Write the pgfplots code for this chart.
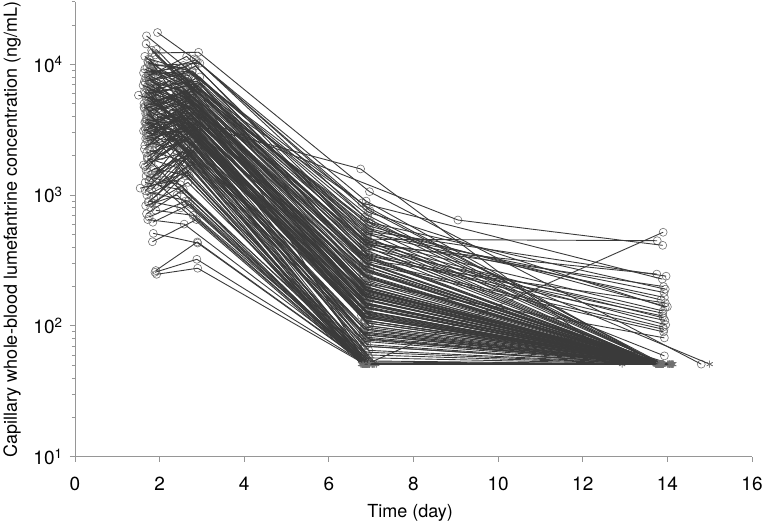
\documentclass[border=0pt]{standalone}
\usepackage{fontspec}
\setmainfont{TeX Gyre Heros}
\usepackage{pgfplots}
\pgfplotsset{compat=1.18}
\definecolor{ln}{RGB}{58,58,58}
\definecolor{mk}{RGB}{112,112,112}
\definecolor{ax}{RGB}{150,150,150}
\pgfplotsset{
  mkpass/.style={only marks, scatter, scatter src=explicit symbolic,
    scatter/classes={o={mark=o, mark size=4pt, draw=mk, line width=0.6pt},
                     b={mark=asterisk, mark size=3.5pt, draw=mk, line width=0.6pt}}},
  lnpass/.style={ln, line width=0.9pt, scatter, scatter src=explicit symbolic,
    scatter/classes={o={mark=o, mark size=1pt, draw=ln, opacity=0},
                     b={mark=asterisk, mark size=3.5pt, draw=mk, line width=0.6pt}}}}
\newcommand{\Mk}[1]{\addplot[mkpass] coordinates {#1};}
\newcommand{\Ln}[1]{\addplot[lnpass] coordinates {#1};}
% one subject per group: (time in days, concentration in ng/mL)[o = measured, b = below LLOQ]
\newcommand{\Data}[1]{%
#1{(1.69,16500)[o] (2.56,9800)[o] (6.92,700)[o] (13.85,51)[b]}
#1{(1.71,1950)[o] (2.68,3300)[o] (6.87,150)[o] (13.77,51)[b]}
#1{(1.68,14300)[o] (2.40,8500)[o] (6.85,520)[o] (13.92,180)[o]}
#1{(1.95,5200)[o] (2.91,6800)[o] (6.86,380)[o] (13.83,51)[b]}
#1{(1.89,257)[o] (2.88,323)[o] (6.87,51)[b] (13.84,51)[b]}
#1{(1.65,9200)[o] (2.50,6800)[o] (6.82,420)[o] (13.75,249)[o]}
#1{(1.78,9000)[o] (2.70,8200)[o] (6.89,51)[b] (13.90,520)[o]}
#1{(1.66,1250)[o] (2.49,1100)[o] (6.86,51)[b] (13.74,51)[b]}
#1{(1.70,2800)[o] (2.90,3400)[o] (6.75,1585)[o] (12.93,51)[b]}
#1{(2.03,4400)[o] (2.78,5900)[o] (6.92,330)[o] (13.79,51)[b]}
#1{(1.62,8600)[o] (2.35,9300)[o] (6.90,560)[o] (13.85,158)[o]}
#1{(1.72,3300)[o] (2.57,4500)[o] (6.88,260)[o] (13.90,51)[b]}
#1{(1.90,11800)[o] (6.88,300)[o] (13.83,51)[b]}
#1{(1.88,1420)[o] (2.64,2300)[o] (6.83,95)[o] (13.81,51)[b]}
#1{(1.81,7500)[o] (2.77,8800)[o] (6.92,450)[o] (13.90,130)[o]}
#1{(2.06,7000)[o] (2.89,7400)[o] (6.97,280)[o] (13.87,51)[b]}
#1{(1.91,765)[o] (2.79,700)[o] (6.84,51)[b] (13.80,51)[b]}
#1{(1.50,5800)[o] (2.45,4700)[o] (6.80,170)[o] (13.83,51)[b]}
#1{(1.79,5600)[o] (2.95,8000)[o] (6.93,410)[o] (13.96,102)[o]}
#1{(1.77,8900)[o] (2.59,8000)[o] (6.97,550)[o] (13.88,51)[b]}
#1{(1.95,17500)[o] (2.82,11000)[o] (6.88,900)[o] (13.80,51)[b]}
#1{(1.87,5200)[o] (2.62,5900)[o] (6.98,220)[o] (13.85,51)[b]}
#1{(1.72,5000)[o] (2.43,4400)[o] (6.81,160)[o] (13.72,51)[b]}
#1{(2.10,3900)[o] (2.85,5000)[o] (6.80,290)[o] (13.86,51)[b]}
#1{(1.63,4700)[o] (2.36,3300)[o] (6.94,135)[o] (13.78,51)[b]}
#1{(1.85,510)[o] (2.90,430)[o] (6.89,51)[b] (13.81,51)[b]}
#1{(1.84,4500)[o] (2.70,5200)[o] (6.84,200)[o] (13.86,51)[b]}
#1{(1.77,4400)[o] (2.57,6300)[o] (6.91,270)[o] (14.10,51)[b]}
#1{(1.67,4200)[o] (2.50,2900)[o] (6.77,120)[o] (13.75,51)[b]}
#1{(1.90,6100)[o] (2.93,7200)[o] (6.95,420)[o] (13.81,51)[b]}
#1{(1.82,12200)[o] (2.92,12360)[o] (6.96,1062)[o] (14.80,51)[o]}
#1{(2.14,4000)[o] (2.69,3700)[o] (6.88,130)[o] (13.80,51)[b]}
#1{(1.80,3900)[o] (2.44,6600)[o] (6.82,350)[o] (13.94,110)[o]}
#1{(1.73,1150)[o] (2.65,1500)[o] (6.83,51)[b] (13.78,51)[b]}
#1{(1.85,3500)[o] (2.90,3900)[o] (9.05,645)[o] (13.89,413)[o]}
#1{(1.70,3800)[o] (2.52,3400)[o] (6.90,175)[o] (13.84,51)[b]}
#1{(1.79,2900)[o] (2.60,4100)[o] (6.84,210)[o] (13.77,51)[b]}
#1{(1.88,3700)[o] (2.75,5700)[o] (6.93,230)[o] (13.79,51)[b]}
#1{(1.65,3600)[o] (2.39,2600)[o] (6.80,90)[o] (14.00,51)[b]}
#1{(1.64,4600)[o] (2.62,5600)[o] (6.78,350)[o] (13.80,51)[b]}
#1{(1.75,11000)[o] (2.65,9000)[o] (6.90,480)[o] (13.78,51)[b]}
#1{(2.08,3400)[o] (2.86,4200)[o] (6.87,190)[o] (13.82,51)[b]}
#1{(1.92,3300)[o] (2.71,3000)[o] (6.99,120)[o] (13.90,51)[b]}
#1{(1.91,265)[o] (2.89,438)[o] (6.91,51)[b] (13.80,51)[b]}
#1{(1.73,3200)[o] (2.48,4600)[o] (6.85,175)[o] (13.86,51)[b]}
#1{(1.82,3100)[o] (2.74,2500)[o] (6.78,80)[o] (13.76,51)[b]}
#1{(1.68,3000)[o] (2.53,3800)[o] (6.92,165)[o] (14.08,51)[b]}
#1{(1.86,2900)[o] (2.87,5000)[o] (6.89,210)[o] (13.93,81)[o]}
#1{(1.81,7300)[o] (2.66,6100)[o] (6.83,460)[o] (13.82,51)[b]}
#1{(1.76,7600)[o] (2.93,4100)[o] (6.86,145)[o] (13.78,51)[b]}
#1{(1.61,6900)[o] (2.37,5300)[o] (6.80,250)[o] (13.85,51)[b]}
#1{(1.69,720)[o] (2.56,1100)[o] (7.05,51)[b] (13.85,51)[b]}
#1{(1.89,6300)[o] (2.80,4500)[o] (6.95,155)[o] (13.88,51)[b]}
#1{(1.74,5900)[o] (2.55,7700)[o] (6.83,440)[o] (13.91,200)[o]}
#1{(2.00,2300)[o] (2.92,3300)[o] (6.89,170)[o] (13.84,51)[b]}
#1{(1.80,5300)[o] (2.66,3200)[o] (6.90,140)[o] (13.80,51)[b]}
#1{(1.66,4800)[o] (2.42,6100)[o] (6.87,320)[o] (13.95,150)[o]}
#1{(1.84,4600)[o] (2.79,2800)[o] (6.93,105)[o] (13.77,51)[b]}
#1{(1.71,4300)[o] (2.62,5500)[o] (6.79,190)[o] (14.12,51)[b]}
#1{(1.88,1950)[o] (2.88,2900)[o] (6.86,150)[o] (13.78,51)[b]}
#1{(1.72,10500)[o] (2.48,7600)[o] (6.94,620)[o] (13.95,191)[o]}
#1{(1.94,4000)[o] (2.76,3500)[o] (6.97,135)[o] (13.87,51)[b]}
#1{(1.75,3700)[o] (2.54,4000)[o] (6.84,160)[o] (13.74,51)[b]}
#1{(2.12,3500)[o] (2.81,2300)[o] (6.91,51)[b] (13.82,51)[b]}
#1{(1.66,1650)[o] (2.44,2500)[o] (6.93,125)[o] (13.87,51)[b]}
#1{(1.69,3300)[o] (2.70,2700)[o] (6.88,85)[o] (13.79,51)[b]}
#1{(1.87,3100)[o] (2.63,3600)[o] (6.82,125)[o] (13.86,51)[b]}
#1{(1.72,2950)[o] (2.87,3100)[o] (6.96,100)[o] (13.90,51)[b]}
#1{(1.79,8100)[o] (2.71,5800)[o] (6.86,390)[o] (13.89,125)[o]}
#1{(1.93,5800)[o] (2.85,5000)[o] (6.90,300)[o] (13.83,51)[b]}
#1{(1.64,7400)[o] (2.44,8600)[o] (6.94,530)[o] (13.97,240)[o]}
#1{(1.76,1050)[o] (2.68,900)[o] (6.90,51)[b] (13.84,51)[b]}
#1{(1.91,6700)[o] (2.58,6000)[o] (6.81,290)[o] (13.84,51)[b]}
#1{(1.77,6100)[o] (2.95,4400)[o] (6.89,185)[o] (13.80,51)[b]}
#1{(2.04,4100)[o] (2.80,3800)[o] (6.81,240)[o] (13.80,51)[b]}
#1{(1.68,5700)[o] (2.39,3800)[o] (6.76,140)[o] (13.75,51)[b]}
#1{(1.85,5100)[o] (2.72,6400)[o] (6.92,310)[o] (13.92,94)[o]}
#1{(1.73,4800)[o] (2.56,3300)[o] (6.85,118)[o] (13.78,51)[b]}
#1{(1.81,4500)[o] (2.60,4900)[o] (6.98,165)[o] (14.02,51)[b]}
#1{(1.83,440)[o] (2.87,650)[o] (6.83,51)[b] (13.78,51)[b]}
#1{(1.88,9800)[o] (2.95,10200)[o] (6.99,615)[o] (15.00,51)[b]}
#1{(1.70,4200)[o] (2.53,2400)[o] (6.80,51)[b] (13.81,51)[b]}
#1{(1.84,6900)[o] (2.67,7900)[o] (6.94,510)[o] (13.89,51)[b]}
#1{(1.93,3900)[o] (2.84,4300)[o] (6.87,150)[o] (13.88,51)[b]}
#1{(1.76,3600)[o] (2.48,3000)[o] (6.93,92)[o] (13.76,51)[b]}
#1{(1.86,3400)[o] (2.77,5300)[o] (6.90,195)[o] (13.83,51)[b]}
#1{(1.66,3200)[o] (2.40,2200)[o] (6.78,51)[b] (13.74,51)[b]}
#1{(1.69,3500)[o] (2.63,4400)[o] (6.87,200)[o] (13.76,51)[b]}
#1{(2.20,3000)[o] (2.89,3500)[o] (6.95,100)[o] (13.87,51)[b]}
#1{(1.74,2800)[o] (2.52,4100)[o] (6.83,130)[o] (13.79,51)[b]}
#1{(1.92,13000)[o] (2.73,7000)[o] (6.95,340)[o] (13.82,51)[b]}
#1{(1.88,2700)[o] (2.66,2600)[o] (6.88,78)[o] (14.06,51)[b]}
#1{(1.71,2600)[o] (2.41,3200)[o] (6.86,110)[o] (13.80,51)[b]}
#1{(1.83,2500)[o] (2.75,2000)[o] (7.03,51)[b] (13.86,51)[b]}
#1{(1.80,2600)[o] (2.55,3500)[o] (6.92,165)[o] (13.85,51)[b]}
#1{(1.65,2400)[o] (2.38,2700)[o] (6.81,88)[o] (13.77,51)[b]}
#1{(1.90,2300)[o] (2.94,3700)[o] (6.97,120)[o] (13.89,51)[b]}
#1{(1.54,1130)[o] (2.36,1300)[o] (6.81,51)[b] (13.79,51)[b]}
#1{(1.77,2200)[o] (2.58,1800)[o] (6.84,51)[b] (13.82,51)[b]}
#1{(1.76,9900)[o] (2.61,9400)[o] (6.85,680)[o] (13.82,51)[b]}
#1{(1.80,8800)[o] (2.91,6500)[o] (6.78,870)[o] (13.88,228)[o]}
#1{(1.69,2100)[o] (2.52,2500)[o] (6.90,72)[o] (13.75,51)[b]}
#1{(2.05,2000)[o] (2.82,3000)[o] (6.87,115)[o] (13.85,51)[b]}
#1{(1.87,2150)[o] (2.69,2700)[o] (6.80,140)[o] (13.79,51)[b]}
#1{(1.74,1900)[o] (2.47,1600)[o] (6.79,51)[b] (14.14,51)[b]}
#1{(1.80,1800)[o] (2.75,2200)[o] (6.94,65)[o] (13.88,51)[b]}
#1{(1.62,1700)[o] (2.40,2900)[o] (6.85,98)[o] (13.81,51)[b]}
#1{(1.87,1600)[o] (2.70,1400)[o] (7.08,51)[b] (13.84,51)[b]}
#1{(1.62,3100)[o] (2.50,3900)[o] (6.96,230)[o] (13.86,51)[b]}
#1{(1.72,1500)[o] (2.64,2000)[o] (6.88,51)[b] (13.76,51)[b]}
#1{(1.95,1450)[o] (2.83,2600)[o] (6.82,86)[o] (13.87,51)[b]}
#1{(1.85,9600)[o] (2.69,5400)[o] (6.97,260)[o] (13.80,51)[b]}
#1{(1.68,1400)[o] (2.49,1200)[o] (6.96,51)[b] (13.80,51)[b]}
#1{(1.78,1350)[o] (2.66,1900)[o] (6.76,51)[b] (13.83,51)[b]}
#1{(2.09,1300)[o] (2.91,2400)[o] (6.92,60)[o] (13.90,51)[b]}
#1{(1.93,248)[o] (2.90,276)[o] (6.85,51)[b] (13.83,51)[b]}
#1{(1.89,1200)[o] (2.74,1700)[o] (7.12,51)[b] (14.04,51)[b]}
#1{(1.73,5600)[o] (2.64,4700)[o] (6.83,310)[o] (13.88,51)[b]}
#1{(1.81,1100)[o] (2.60,2100)[o] (6.95,57)[o] (13.86,51)[b]}
#1{(1.77,10800)[o] (2.54,4800)[o] (6.84,210)[o] (13.76,51)[b]}
#1{(1.73,8300)[o] (2.86,10800)[o] (6.93,740)[o] (13.95,139)[o]}
#1{(1.70,1000)[o] (2.62,1400)[o] (6.87,51)[b] (13.81,51)[b]}
#1{(1.86,950)[o] (2.74,1800)[o] (6.93,53)[o] (13.88,51)[b]}
#1{(1.74,900)[o] (2.50,800)[o] (6.79,51)[b] (14.09,51)[b]}
#1{(1.91,1500)[o] (2.86,2200)[o] (6.88,115)[o] (13.81,51)[b]}
#1{(1.82,870)[o] (2.67,1250)[o] (7.00,51)[b] (13.83,51)[b]}
#1{(1.67,830)[o] (2.41,1000)[o] (6.85,51)[b] (13.77,51)[b]}
#1{(1.79,800)[o] (2.73,1600)[o] (6.91,51)[b] (13.87,51)[b]}
#1{(1.67,7900)[o] (2.64,11500)[o] (6.80,460)[o] (13.76,448)[o]}
#1{(1.75,680)[o] (2.61,900)[o] (6.82,51)[b] (13.79,51)[b]}
#1{(1.72,650)[o] (2.58,600)[o] (6.94,51)[b] (14.11,51)[b]}
#1{(2.02,4800)[o] (2.88,6500)[o] (6.91,400)[o] (13.84,51)[b]}
#1{(1.84,620)[o] (2.72,850)[o] (6.86,51)[b] (13.86,51)[b]}
#1{(1.74,7800)[o] (2.50,6200)[o] (6.88,330)[o] (13.84,51)[b]}
#1{(1.78,2450)[o] (2.70,4800)[o] (6.90,160)[o] (13.82,51)[b]}
#1{(1.64,2250)[o] (2.43,3900)[o] (6.84,110)[o] (13.79,51)[b]}
#1{(1.86,2050)[o] (2.85,4500)[o] (6.92,145)[o] (13.86,51)[b]}
#1{(1.66,7200)[o] (2.53,5100)[o] (6.85,190)[o] (13.79,51)[b]}
#1{(1.80,1750)[o] (2.56,2800)[o] (6.80,90)[o] (13.84,51)[b]}
#1{(1.68,1550)[o] (2.61,3600)[o] (6.95,105)[o] (13.89,51)[b]}
#1{(1.71,6800)[o] (2.41,4300)[o] (6.79,150)[o] (13.74,51)[b]}
#1{(1.75,1280)[o] (2.73,3100)[o] (6.89,82)[o] (13.85,51)[b]}
#1{(2.13,1180)[o] (2.87,2600)[o] (6.86,63)[o] (13.78,51)[b]}
#1{(1.67,2700)[o] (2.62,3100)[o] (6.86,180)[o] (13.77,51)[b]}
#1{(1.66,1080)[o] (2.40,1900)[o] (6.92,51)[b] (13.83,51)[b]}
#1{(1.92,980)[o] (2.80,2200)[o] (6.85,54)[o] (13.87,51)[b]}
#1{(1.73,880)[o] (2.55,1500)[o] (6.81,51)[b] (13.80,51)[b]}
#1{(1.79,7100)[o] (2.69,3700)[o] (6.88,128)[o] (13.82,51)[b]}
#1{(1.93,6600)[o] (2.84,9700)[o] (6.90,500)[o] (13.93,165)[o]}
#1{(1.70,6500)[o] (2.52,2900)[o] (6.84,95)[o] (13.79,51)[b]}
#1{(1.85,5900)[o] (2.75,2600)[o] (6.96,51)[b] (13.86,51)[b]}
#1{(1.76,5500)[o] (2.60,3400)[o] (6.87,118)[o] (13.81,51)[b]}
#1{(1.63,5000)[o] (2.42,2100)[o] (6.80,51)[b] (13.75,51)[b]}
#1{(1.86,2500)[o] (2.74,3600)[o] (6.91,185)[o] (13.85,51)[b]}
#1{(1.90,4700)[o] (2.64,3800)[o] (6.91,115)[o] (13.88,51)[b]}
#1{(1.72,4300)[o] (2.48,2400)[o] (6.85,76)[o] (13.80,51)[b]}
#1{(1.81,3950)[o] (2.76,1900)[o] (6.93,51)[b] (13.84,51)[b]}
#1{(1.67,3650)[o] (2.51,2700)[o] (6.82,70)[o] (13.77,51)[b]}
#1{(1.87,3350)[o] (2.67,2100)[o] (6.89,51)[b] (13.85,51)[b]}
#1{(1.76,6400)[o] (2.46,5600)[o] (6.83,240)[o] (13.81,51)[b]}
#1{(1.64,6200)[o] (2.38,3900)[o] (6.95,120)[o] (13.77,51)[b]}
#1{(1.74,8000)[o] (6.90,260)[o] (13.82,51)[b]}
#1{(1.82,5600)[o] (6.85,130)[o] (13.78,51)[b]}
#1{(1.83,6000)[o] (2.71,6900)[o] (6.87,360)[o] (13.89,119)[o]}
#1{(1.68,3800)[o] (6.93,80)[o] (13.86,51)[b]}
#1{(1.88,2700)[o] (6.87,51)[b] (13.80,51)[b]}
#1{(1.69,5400)[o] (2.58,3600)[o] (6.86,110)[o] (14.05,51)[b]}
#1{(1.71,1900)[o] (6.81,51)[b] (13.83,51)[b]}
#1{(1.79,1350)[o] (6.95,51)[b] (13.88,51)[b]}
#1{(1.95,4900)[o] (2.97,7100)[o] (6.89,300)[o] (13.91,90)[o]}
#1{(1.65,11500)[o] (6.89,430)[o] (13.91,115)[o]}
#1{(1.93,7300)[o] (6.84,170)[o] (13.76,51)[b]}
#1{(1.90,4100)[o] (2.83,4900)[o] (6.96,180)[o] (13.88,51)[b]}
#1{(2.68,5100)[o] (6.90,190)[o] (13.81,51)[b]}
#1{(2.93,3200)[o] (6.86,70)[o] (13.84,51)[b]}
#1{(2.55,7400)[o] (6.94,350)[o] (13.90,98)[o]}
#1{(1.76,6300)[o] (2.60,7300)[o] (6.91,470)[o] (13.93,59)[o]}
#1{(1.84,8400)[o] (2.77,8900)[o] (6.95,580)[o] (14.00,140)[o]}
#1{(1.70,9400)[o] (2.44,7800)[o] (6.83,640)[o] (13.86,51)[b]}
#1{(1.87,7700)[o] (2.89,10500)[o] (6.97,760)[o] (13.90,51)[b]}
#1{(1.73,10200)[o] (2.62,9100)[o] (6.88,820)[o] (13.84,51)[b]}
#1{(1.81,12800)[o] (2.46,8100)[o] (6.92,400)[o] (13.79,51)[b]}
#1{(1.66,6000)[o] (2.54,6700)[o] (6.86,270)[o] (13.83,51)[b]}
#1{(1.91,5300)[o] (2.75,6200)[o] (6.90,240)[o] (13.87,51)[b]}
#1{(1.78,4900)[o] (2.58,5700)[o] (6.84,220)[o] (13.81,51)[b]}
}
\begin{document}
\begin{tikzpicture}[x=1pt,y=1pt]
\begin{axis}[
  at={(0,0)}, anchor=south west,
  scale only axis, width=677pt, height=454.8pt,
  xmin=0, xmax=16, ymode=log, ymin=10, ymax=30000,
  axis lines*=left,
  axis line style={ax, line width=0.8pt},
  xtick={0,2,...,16},
  ytick={10,100,1000,10000},
  yticklabels={10\textsuperscript{1},10\textsuperscript{2},10\textsuperscript{3},10\textsuperscript{4}},
  minor ytick={20,30,40,50,60,70,80,90,200,300,400,500,600,700,800,900,2000,3000,4000,5000,6000,7000,8000,9000,20000,30000},
  tick align=outside,
  major tick length=5pt, minor tick length=3pt,
  tick style={ax, line width=0.8pt},
  /pgf/number format/assume math mode=true,
  ticklabel style={font=\fontsize{19}{22}\selectfont},
  xticklabel style={yshift=-12pt},
  yticklabel style={xshift=-4pt},
  xlabel={Time (day)},
  ylabel={Capillary whole-blood lumefantrine concentration (ng/mL)},
  label style={font=\fontsize{18}{22}\selectfont},
  xlabel style={at={(axis description cs:0.495,-0.123)}, anchor=center},
  ylabel style={at={(axis description cs:-0.093,0.5)}, anchor=center},
  clip=false,
  clip marker paths=true,
]
\Data\Mk
\Data\Ln
\end{axis}
\pgfresetboundingbox
\useasboundingbox (-75,-68.3) rectangle (689,456.7);
\end{tikzpicture}
\end{document}
